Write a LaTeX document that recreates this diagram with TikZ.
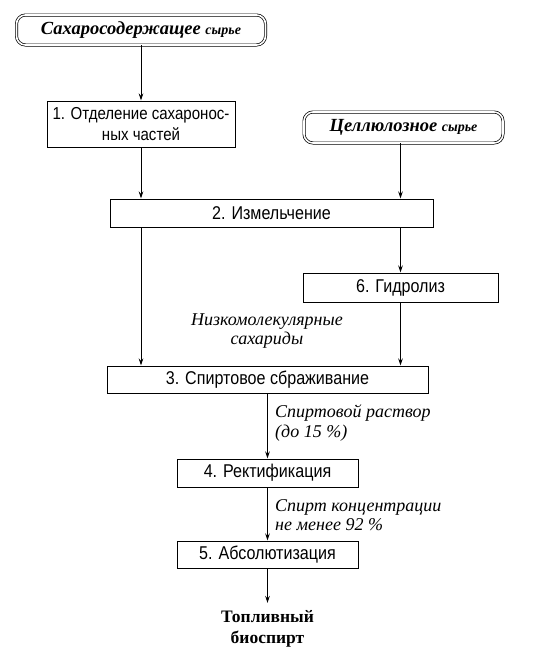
\documentclass[tikz,border=0pt]{standalone}
\usepackage{fontspec}
\setmainfont{Liberation Serif}
\setsansfont{Liberation Sans}
\newfontfamily\kastenschrift{Liberation Sans}[FakeStretch=0.87]
\usetikzlibrary{arrows.meta}
\begin{document}
\begin{tikzpicture}[x=1pt, y=-1pt,
	kasten/.style={draw, line width=1pt, inner sep=0pt, align=center, font=\kastenschrift\fontsize{18.5}{21}\selectfont},
	rohstoff/.style={draw, double, double distance=1.6pt, line width=0.7pt, rounded corners=9pt, inner sep=0pt, font=\bfseries\itshape\fontsize{18.5}{20}\selectfont},
	notiz/.style={align=left, inner sep=0pt, font=\itshape\fontsize{18}{19.5}\selectfont},
	pfeil/.style={-{Stealth[length=7pt, width=4.5pt]}, line width=0.8pt}]
\useasboundingbox (0,0) rectangle (549,649);
% Rohstoffe
\node[rohstoff, minimum width=249pt, minimum height=30pt] (roh1) at (141,30) {Сахаросодержащее {\fontsize{14}{16}\selectfont сырье}};
\node[rohstoff, minimum width=199pt, minimum height=31pt] (roh2) at (403.5,127.5) {Целлюлозное {\fontsize{14}{16}\selectfont сырье}};
% Kaesten
\node[kasten, minimum width=188pt, minimum height=46pt, font=\kastenschrift\fontsize{17.3}{21}\selectfont] (b1) at (141,124) {1. Отделение сахаронос-\\ных частей};
\node[kasten, minimum width=323pt, minimum height=28pt] (b2) at (271.5,213) {2. Измельчение};
\node[kasten, minimum width=195pt, minimum height=29pt] (b6) at (400.5,287.5) {6. Гидролиз};
\node[kasten, minimum width=321pt, minimum height=27pt] (b3) at (267.5,379.5) {3. Спиртовое сбраживание};
\node[kasten, minimum width=181pt, minimum height=28pt] (b4) at (267.5,473) {4. Ректификация};
\node[kasten, minimum width=181pt, minimum height=27pt] (b5) at (267.5,554.5) {5. Абсолютизация};
\node[align=center, inner sep=0pt, anchor=north, font=\bfseries\fontsize{17.5}{21}\selectfont] (bio) at (267.5,610) {Топливный\\биоспирт};
% Beschriftungen
\node[notiz, align=center] (n1) at (267,331) {Низкомолекулярные\\сахариды};
\node[notiz, anchor=west] (n2) at (275,423) {Спиртовой раствор\\(до 15 \%)};
\node[notiz, anchor=west] (n3) at (275,515) {Спирт концентрации\\не менее 92 \%};
% Pfeile
\draw[pfeil] (roh1) -- (b1);
\draw[pfeil] (b1) -- (b2.north -| b1);
\draw[pfeil] (roh2.south -| b6) -- (b2.north -| b6);
\draw[pfeil] (b2.south -| b1) -- (b3.north -| b1);
\draw[pfeil] (b2.south -| b6) -- (b6);
\draw[pfeil] (b6) -- (b3.north -| b6);
\draw[pfeil] (b3) -- (b4);
\draw[pfeil] (b4) -- (b5);
\draw[pfeil] (b5) -- ([yshift=7pt]bio.north);
\end{tikzpicture}
\end{document}
